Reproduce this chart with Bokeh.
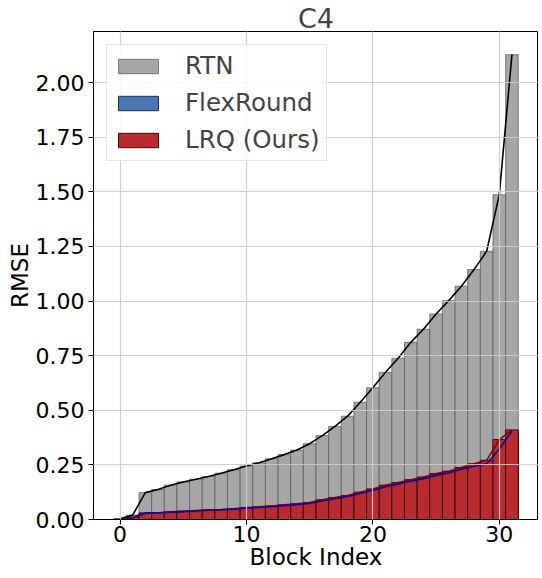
from bokeh.plotting import figure
from bokeh.models import Range1d, FixedTicker
from bokeh.embed import file_html
from bokeh.resources import INLINE

# ---- data ----
block_index = list(range(32))
rtn = [0.003, 0.020, 0.123, 0.137, 0.157, 0.172, 0.184, 0.197, 0.212, 0.228,
       0.245, 0.260, 0.278, 0.297, 0.318, 0.347, 0.384, 0.426, 0.473, 0.537,
       0.603, 0.674, 0.738, 0.811, 0.871, 0.941, 1.002, 1.068, 1.144, 1.228,
       1.487, 2.128]
flexround = [0.001, 0.007, 0.029, 0.030, 0.033, 0.036, 0.039, 0.042, 0.044, 0.047,
             0.052, 0.055, 0.059, 0.063, 0.068, 0.074, 0.085, 0.095, 0.105, 0.119,
             0.133, 0.150, 0.162, 0.175, 0.187, 0.202, 0.213, 0.230, 0.244, 0.255,
             0.323, 0.404]
lrq = [0.002, 0.010, 0.030, 0.031, 0.035, 0.038, 0.041, 0.044, 0.046, 0.049,
       0.055, 0.058, 0.062, 0.067, 0.072, 0.078, 0.090, 0.100, 0.110, 0.125,
       0.140, 0.157, 0.169, 0.182, 0.194, 0.210, 0.221, 0.238, 0.255, 0.271,
       0.366, 0.410]
x_ticks = [0, 10, 20, 30]
y_ticks = [0.0, 0.25, 0.5, 0.75, 1.0, 1.25, 1.5, 1.75, 2.0]
y_tick_labels = ["0.00", "0.25", "0.50", "0.75", "1.00", "1.25", "1.50", "1.75", "2.00"]
series_names = ["RTN", "FlexRound", "LRQ (Ours)"]

FONT = "DejaVu Sans"

p = figure(width=538, height=576, output_backend="svg", toolbar_location=None,
           x_range=Range1d(-2.1, 33.1), y_range=Range1d(0, 2.234),
           title="C4")
p.min_border_left = 93
p.min_border_right = 0
p.min_border_top = 31
p.min_border_bottom = 57

p.title.align = "center"
p.title.text_font = FONT
p.title.text_font_size = "27px"
p.title.text_font_style = "normal"
p.title.standoff = -4

# bars
p.vbar(x=block_index, top=rtn, width=1.0, bottom=0,
       fill_color="#a6a6a6", line_color="#555555", line_alpha=0.7, line_width=1,
       legend_label=series_names[0])
p.vbar(x=block_index, top=flexround, width=1.0, bottom=0,
       fill_color="#4a77b4", line_color="#1b2f4f", line_width=1,
       legend_label=series_names[1])
p.vbar(x=block_index, top=lrq, width=1.0, bottom=0,
       fill_color="#ba2b30", line_color="#3d0c0c", line_width=1,
       legend_label=series_names[2])

# lines
p.line(block_index, rtn, line_color="black", line_width=1.6)
p.line(block_index, lrq, line_color="#8b0000", line_width=1.6)
p.line(block_index, flexround, line_color="#0d0d99", line_width=1.6)

# grid on top of bars
for g in (p.xgrid, p.ygrid):
    g.level = "guide"
    g.grid_line_color = "#cccccc"
    g.grid_line_alpha = 0.9
    g.grid_line_width = 1.2

p.xaxis.ticker = FixedTicker(ticks=x_ticks)
p.yaxis.ticker = FixedTicker(ticks=y_ticks)
p.yaxis.major_label_overrides = {v: s for v, s in zip(y_ticks, y_tick_labels)}

p.xaxis.axis_label = "Block Index"
p.yaxis.axis_label = "RMSE"
for ax in (p.xaxis, p.yaxis):
    ax.axis_label_text_font = FONT
    ax.axis_label_text_font_size = "23px"
    ax.axis_label_text_font_style = "normal"
    ax.axis_label_text_color = "black"
    ax.major_label_text_font = FONT
    ax.major_label_text_font_size = "22px"
    ax.major_label_text_color = "black"
    ax.axis_line_color = "black"
    ax.major_tick_line_color = "black"
    ax.major_tick_out = 5
    ax.major_tick_in = 0
    ax.minor_tick_line_color = None
p.xaxis.major_label_standoff = 1
p.xaxis.axis_label_standoff = -1
p.yaxis.major_label_standoff = 4
p.yaxis.axis_label_standoff = 0

p.outline_line_color = "black"
p.outline_line_alpha = 1
p.outline_line_width = 1

lg = p.legend[0]
lg.location = "top_left"
lg.margin = 13
lg.padding = 6
lg.spacing = 8
lg.label_text_font = FONT
lg.label_text_font_size = "24.5px"
lg.label_height = 26
lg.glyph_width = 50
lg.glyph_height = 18
lg.label_standoff = 22
lg.border_line_color = "#cccccc"
lg.border_line_width = 1
lg.background_fill_alpha = 0.8

open("out.html", "w").write(file_html(p, INLINE))
